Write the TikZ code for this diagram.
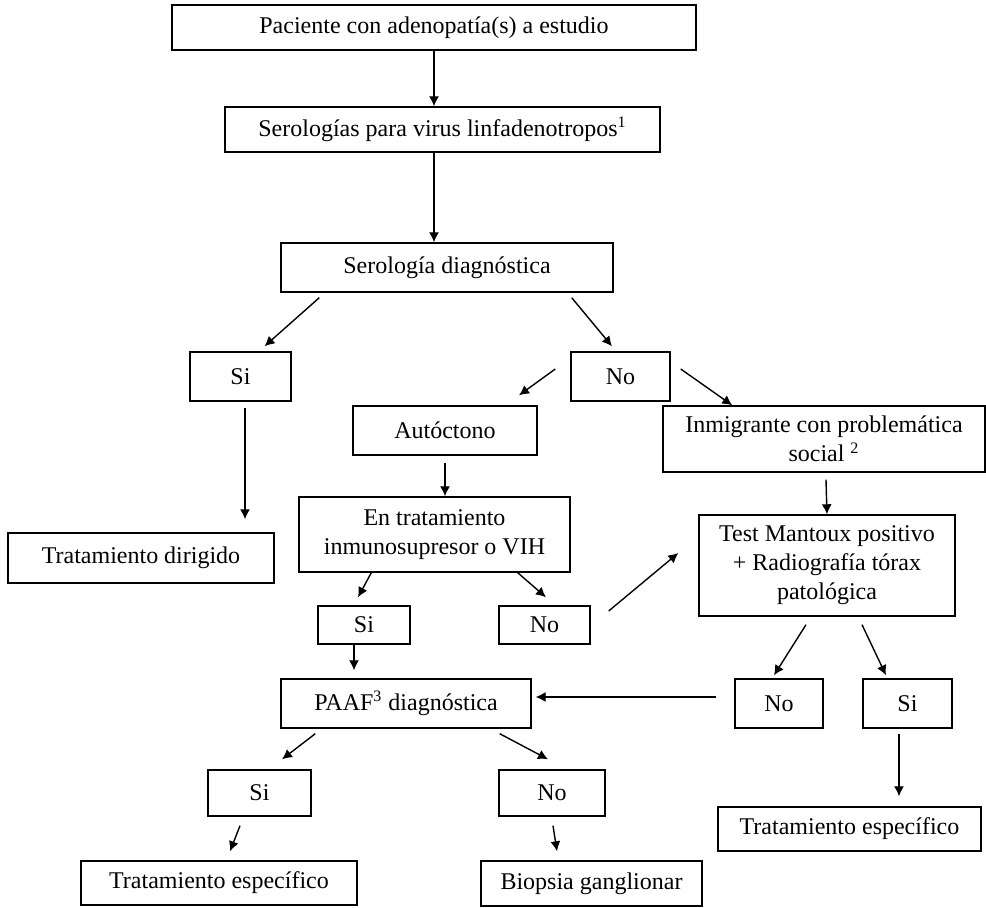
\documentclass[tikz,border=0pt]{standalone}
\usepackage{fontspec}
\setmainfont{Liberation Serif}
\usepackage{tikz}
\usetikzlibrary{arrows.meta}
\usetikzlibrary{calc}

\begin{document}
\begin{tikzpicture}[x=0.5pt, y=-0.5pt, -{Latex[length=5pt,width=5pt]}, line width=0.7pt,
    box/.style = {draw, -, rectangle, inner sep=1pt, font=\fontsize{12}{14.5}\selectfont},
    wh/.style 2 args = {minimum width=#1*0.5pt, minimum height=#2*0.5pt}]
    \useasboundingbox (0,0) rectangle (986,908);
    % Nodes
    \node[box, wh={524}{45}] (pac) at (434,27.5) {Paciente con adenopatía(s) a estudio};
    \node[box, wh={435}{45}] (serol) at (442.5,129.5) {Serologías para virus linfadenotropos\textsuperscript{1}};
    \node[box, wh={332}{49}] (sdiag) at (447,267.5) {Serología diagnóstica};

    \node[box, wh={101}{49}] (si1) at (240.5,376.5) {Si};
    \node[box, wh={99}{49}] (no1) at (620.5,376.5) {No};
    \node[box, wh={184}{49}] (auto) at (445,430.5) {Autóctono};
    \node[box, wh={322}{66}, align=center] (inmig) at (824,439) {Inmigrante con problemática\\social \textsuperscript{2}};
    \node[box, wh={266}{50}] (dirig) at (141,558) {Tratamiento dirigido};
    \node[box, wh={271}{75}, align=center] (trat) at (434.5,534.5) {En tratamiento\\inmunosupresor o VIH};
    \node[box, wh={256}{101}, align=center] (mant) at (827,565.5) {Test Mantoux positivo\\+ Radiografía tórax\\patológica};

    \node[box, wh={92}{38}] (si2) at (364,625) {Si};
    \node[box, wh={91}{38}] (no2) at (544.5,625) {No};
    \node[box, wh={250}{49}] (paaf) at (406,703.5) {PAAF\textsuperscript{3} diagnóstica};
    \node[box, wh={88}{49}] (no3) at (779,703.5) {No};
    \node[box, wh={89}{49}] (si3) at (907.5,703.5) {Si};
    \node[box, wh={263}{44}] (esp1) at (849.5,829) {Tratamiento específico};

    \node[box, wh={103}{46}] (si4) at (259.5,793) {Si};
    \node[box, wh={106}{46}] (no4) at (552,793) {No};
    \node[box, wh={276}{44}] (esp2) at (219,883) {Tratamiento específico};
    \node[box, wh={221}{45}] (biop) at (591.5,883.5) {Biopsia ganglionar};

    % Edges
    \draw (pac.south) -- (pac.south |- serol.north);
    \draw (pac.south |- serol.south) -- (pac.south |- sdiag.north);

    \draw ($(sdiag.south west)+(39,5)$) -- ($(si1.north)+(24,-5)$);
    \draw ($(sdiag.south east)+(-42,5)$) -- ($(no1.north)+(-8.5,-5)$);
    \draw ($(no1.west)+(-15,-7.5)$) -- ($(auto.north)+(74,-10)$);
    \draw ($(no1.east)+(10,-7.5)$) -- ($(inmig.north west)+(70,0)$);
    \draw ($(si1.south)+(4.5,6)$) -- ($(si1.south |- dirig.north)+(4.5,-13)$);

    \draw ($(auto.south)+(0,7)$) -- (auto.south |- trat.north);
    \draw ($(inmig.south)+(2,7)$) -- (mant.north);
    \draw ($(trat.south west)+(73,0)$) -- ($(si2.north)+(-6,-8)$);
    \draw ($(trat.south east)+(-53,0)$) -- ($(no2.north)+(1.5,-8)$);
    \draw ($(no2.east)+(18,-14)$) -- ($(mant.west)+(-20,-12.5)$);

    \draw ($(si2.south)+(-10,0)$) -- ($(si2.south |- paaf.north)+(-10,-8)$);
    \draw ($(mant.south)+(-21,8)$) -- ($(no3.north)+(-5,-3)$);
    \draw ($(mant.south)+(35,8)$) -- ($(si3.north)+(-21.5,-3)$);
    \draw ($(no3.west)+(-18,-6.5)$) -- ($(paaf.east)+(4,-6.5)$);
    \draw ($(si3.south)+(-8.5,5)$) -- ($(si3.south |- esp1.north)+(-8.5,-10)$);

    \draw ($(paaf.south west)+(35,5)$) -- ($(si4.north)+(22.5,-10)$);
    \draw ($(paaf.south east)+(-32,5)$) -- ($(no4.north)+(-4,-10)$);
    \draw ($(si4.south)+(-19.5,9)$) -- ($(esp2.north)+(11,-9)$);
    \draw ($(no4.south)+(1,9)$) -- ($(biop.north)+(-34.5,-9)$);

\end{tikzpicture}
\end{document}
